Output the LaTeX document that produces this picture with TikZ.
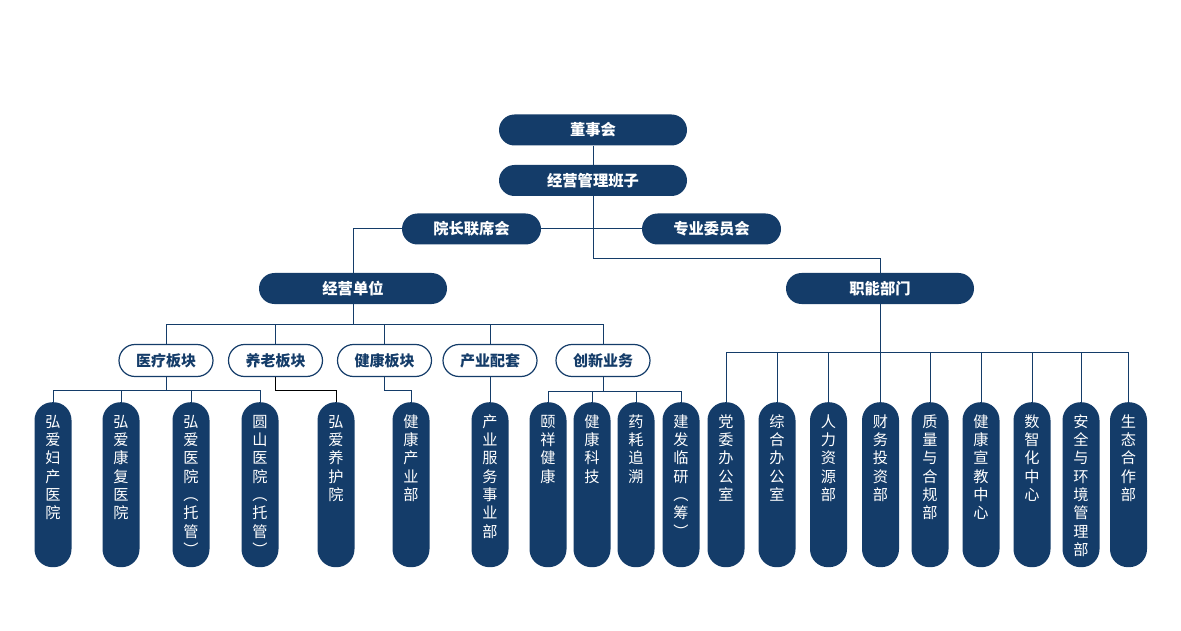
\documentclass[tikz,border=0pt]{standalone}
\usepackage{fontspec}
\setmainfont{Noto Sans CJK SC}
\definecolor{navy}{HTML}{143C69}
\makeatletter
\def\vcol#1{\vtop{\baselineskip=18.3pt\lineskiplimit=-20pt\lineskip=0pt\vcol@#1\relax}}
\def\vcol@#1{\ifx\relax#1\else\hbox to 15pt{\hss#1\hss}\expandafter\vcol@\fi}
\makeatother
\tikzset{
  topbox/.style={fill=navy, text=white, font=\bfseries\fontsize{15.3}{17}\selectfont,
    rounded corners=15.5pt, minimum height=31pt, inner sep=0pt},
  widebox/.style={topbox, minimum width=188pt},
  midbox/.style={topbox, minimum width=139pt},
  outbox/.style={draw=navy, line width=1.2pt, fill=white, text=navy,
    font=\bfseries\fontsize{15}{17}\selectfont, rounded corners=16pt,
    minimum width=94pt, minimum height=32pt, inner sep=0pt},
  leaf/.style={fill=navy, text=white, font=\fontsize{15.2}{18.3}\selectfont,
    rounded corners=18pt, minimum width=37pt, inner sep=0pt,
    text height=25pt, text depth=140pt, anchor=north},
  conn/.style={draw=navy, line width=1pt},
}
\begin{document}
\begin{tikzpicture}[x=1pt,y=-1pt]
\useasboundingbox[fill=white] (0,0) rectangle (1181,631);
% top level
\node[widebox] (dsh) at (593,130) {董事会};
\node[widebox] (jy) at (593,180.5) {经营管理班子};
\node[midbox] (yz) at (471.5,229) {院长联席会};
\node[midbox] (zy) at (711.5,229) {专业委员会};
\node[widebox] (jd) at (353,288.5) {经营单位};
\node[widebox] (zn) at (880,288.5) {职能部门};
\coordinate (j1) at (593,258.5);
\draw[conn] (dsh.south) -- (jy.north);
\draw[conn] (jy.south) -- (j1) -| (zn.north);
\draw[conn] (yz.east) -- (zy.west);
\draw[conn] (yz.west) -| (jd.north);
% second level
\node[outbox] (ylb) at (166,360.5) {医疗板块};
\node[outbox] (yl2) at (275.5,360.5) {养老板块};
\node[outbox] (jkb) at (384.5,360.5) {健康板块};
\node[outbox] (cyp) at (490,360.5) {产业配套};
\node[outbox] (cxy) at (603,360.5) {创新业务};
\coordinate (busA) at (0,324);
\foreach \c in {ylb,yl2,jkb,cyp,cxy}{
  \draw[conn] (jd.south) |- (\c.north |- busA) -- (\c.north);
}
% leaves left
\node[leaf] (l1) at (53,402) {\vcol{弘爱妇产医院}};
\node[leaf] (l2) at (121,402) {\vcol{弘爱康复医院}};
\node[leaf] (l3) at (191,402) {\vcol{弘爱医院︵托管︶}};
\node[leaf] (l4) at (260,402) {\vcol{圆山医院︵托管︶}};
\node[leaf] (l5) at (336,402) {\vcol{弘爱养护院}};
\node[leaf] (l6) at (411,402) {\vcol{健康产业部}};
\node[leaf] (l7) at (490,402) {\vcol{产业服务事业部}};
\node[leaf] (l8) at (548,402) {\vcol{颐祥健康}};
\node[leaf] (l9) at (592,402) {\vcol{健康科技}};
\node[leaf] (l10) at (636,402) {\vcol{药耗追溯}};
\node[leaf] (l11) at (681,402) {\vcol{建发临研︵筹︶}};
\coordinate (busB) at (0,390);
\foreach \c in {l1,l2,l3,l4}{
  \draw[conn] (ylb.south) |- (\c.north |- busB) -- (\c.north);
}
\draw[line width=1pt, draw=black] (yl2.south) |- (l5.north |- busB) -- (l5.north);
\draw[conn] (jkb.south) |- (l6.north |- busB) -- (l6.north);
\draw[conn] (cyp.south) -- (l7.north);
\coordinate (busC) at (0,391);
\foreach \c in {l8,l9,l10,l11}{
  \draw[conn] (cxy.south) |- (\c.north |- busC) -- (\c.north);
}
% leaves right
\node[leaf] (r1) at (726,402) {\vcol{党委办公室}};
\node[leaf] (r2) at (777,402) {\vcol{综合办公室}};
\node[leaf] (r3) at (828.5,402) {\vcol{人力资源部}};
\node[leaf] (r4) at (880.5,402) {\vcol{财务投资部}};
\node[leaf] (r5) at (930,402) {\vcol{质量与合规部}};
\node[leaf] (r6) at (981,402) {\vcol{健康宣教中心}};
\node[leaf] (r7) at (1032,402) {\vcol{数智化中心}};
\node[leaf] (r8) at (1081,402) {\vcol{安全与环境管理部}};
\node[leaf] (r9) at (1128.5,402) {\vcol{生态合作部}};
\coordinate (busD) at (0,352);
\foreach \c in {r1,r2,r3,r4,r5,r6,r7,r8,r9}{
  \draw[conn] (zn.south) |- (\c.north |- busD) -- (\c.north);
}
\end{tikzpicture}
\end{document}
